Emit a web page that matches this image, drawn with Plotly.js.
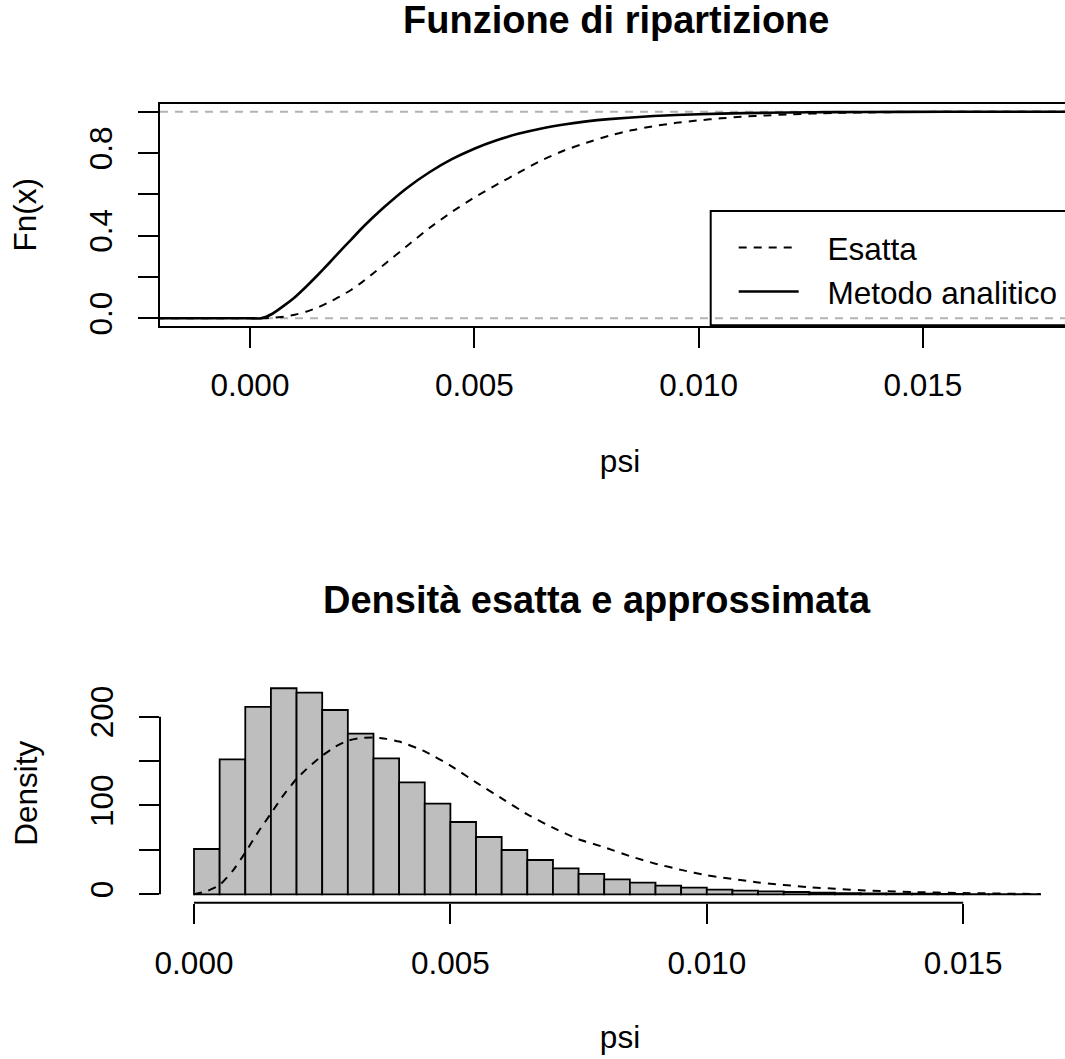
<!DOCTYPE html>
<html><head><meta charset="utf-8">
<script src="https://cdn.plot.ly/plotly-3.0.1.min.js"></script>
<style>html,body{margin:0;padding:0;overflow:hidden;background:#fff}#chart{width:1090px;height:1059px}</style>
</head><body><div id="chart"></div>
<script>
// ---- data ----
const analiticoPsi = [-0.0021, 0.0000, 0.00025, 0.0005, 0.00075, 0.0010, 0.00125, 0.0015, 0.00175, 0.0020, 0.00225, 0.0025, 0.00275, 0.0030, 0.0035, 0.0040, 0.0045, 0.0050, 0.0055, 0.0060, 0.0065, 0.0070, 0.0075, 0.0080, 0.0090, 0.0100, 0.0110, 0.0120, 0.0130, 0.0145, 0.0165, 0.0190];
const analiticoFn  = [0, 0, 0.000, 0.022, 0.060, 0.102, 0.153, 0.207, 0.264, 0.323, 0.380, 0.437, 0.490, 0.540, 0.631, 0.707, 0.770, 0.821, 0.862, 0.894, 0.919, 0.938, 0.953, 0.964, 0.979, 0.988, 0.993, 0.996, 0.998, 0.999, 1.0, 1.0];

const esattaPsi = [-0.0021, 0.0000, 0.0003, 0.0005, 0.00075, 0.0010, 0.00125, 0.0015, 0.00175, 0.0020, 0.00225, 0.0025, 0.00275, 0.0030, 0.0035, 0.0040, 0.0045, 0.0050, 0.0055, 0.0060, 0.0065, 0.0070, 0.0075, 0.0080, 0.0085, 0.0090, 0.0095, 0.0100, 0.0105, 0.0110, 0.0115, 0.0120, 0.0130, 0.0140, 0.0150, 0.0165, 0.0190];
const esattaFn  = [0, 0, 0.000, 0.003, 0.008, 0.017, 0.032, 0.051, 0.077, 0.105, 0.137, 0.175, 0.218, 0.262, 0.350, 0.437, 0.515, 0.585, 0.647, 0.706, 0.765, 0.812, 0.850, 0.883, 0.910, 0.930, 0.946, 0.958, 0.968, 0.976, 0.982, 0.987, 0.994, 0.997, 0.999, 1.0, 1.0];

const binStart = [0.0000, 0.0005, 0.0010, 0.0015, 0.0020, 0.0025, 0.0030, 0.0035, 0.0040, 0.0045, 0.0050, 0.0055, 0.0060, 0.0065, 0.0070, 0.0075, 0.0080, 0.0085, 0.0090, 0.0095, 0.0100, 0.0105, 0.0110, 0.0115, 0.0120, 0.0125, 0.0130, 0.0135, 0.0140, 0.0145, 0.0150, 0.0155, 0.0160];
const binDensity = [51, 152, 211, 232, 227, 207.5, 181, 153, 126, 102, 81.4, 64.5, 49.9, 38.6, 29.3, 22.9, 16.9, 13.1, 9.7, 7.5, 5.2, 4.1, 3.3, 2.6, 1.9, 1.4, 1.1, 0.8, 0.6, 0.4, 0.3, 0.2, 0.1];
const binWidth = 0.0005;

const densPsi = [0, 0.00025, 0.0005, 0.00075, 0.0010, 0.00125, 0.0015, 0.00175, 0.0020, 0.00225, 0.0025, 0.00275, 0.0030, 0.00325, 0.0035, 0.00375, 0.0040, 0.0045, 0.0050, 0.0055, 0.0060, 0.0065, 0.0070, 0.0075, 0.0080, 0.0085, 0.0090, 0.0095, 0.0100, 0.0110, 0.0120, 0.0130, 0.0140, 0.0150, 0.0165];
const densEsatta = [0, 3.5, 10.5, 26, 47, 70, 91, 112, 130, 144, 156, 166, 173, 176, 176.5, 175, 172, 161, 145, 126, 108, 90, 75, 62, 53, 43, 34.5, 27.5, 21.5, 13.4, 8, 4.6, 2.6, 1.4, 0.3];

const xTickVals = [0, 0.005, 0.010, 0.015];
const xTickText = ['0.000', '0.005', '0.010', '0.015'];
const fnTickVals = [0, 0.2, 0.4, 0.6, 0.8, 1.0];
const fnTickText = ['0.0', '', '0.4', '', '0.8', ''];
const densTickVals = [0, 50, 100, 150, 200];
const densTickText = ['0', '', '100', '', '200'];
const refLevels = [0, 1];
const legendNames = ['Esatta', 'Metodo analitico'];

// ---- layout helpers (pixel -> paper) ----
const W = 1090, H = 1059;
const px = v => v / W;
const py = v => 1 - v / H;
const FONT = 'Liberation Sans, Arial, Helvetica, sans-serif';
const FS = 31.5;
const pad = '\u00A0\u00A0\u2009';  // gap between legend sample and label, as in R

const traces = [
  {x: esattaPsi, y: esattaFn, type: 'scatter', mode: 'lines', name: pad + legendNames[0],
   line: {color: '#000', width: 2, dash: '8px,7px', shape: 'spline', smoothing: 0.5}, xaxis: 'x', yaxis: 'y'},
  {x: analiticoPsi, y: analiticoFn, type: 'scatter', mode: 'lines', name: pad + legendNames[1],
   line: {color: '#000', width: 2.6, shape: 'spline', smoothing: 0.5}, xaxis: 'x', yaxis: 'y'},
  {x: binStart, y: binDensity, type: 'bar', width: binWidth, offset: 0, showlegend: false,
   marker: {color: '#BEBEBE', line: {color: '#000', width: 1.8}}, xaxis: 'x2', yaxis: 'y2'},
  {x: densPsi, y: densEsatta, type: 'scatter', mode: 'lines', showlegend: false,
   line: {color: '#000', width: 2, dash: '8px,7px', shape: 'spline', smoothing: 0.5}, xaxis: 'x2', yaxis: 'y2'}
];

const axisCommon = {
  showgrid: false, zeroline: false, ticks: 'outside', ticklen: 20, tickwidth: 2, tickcolor: '#000',
  tickfont: {family: FONT, size: FS, color: '#000'}, tickmode: 'array', fixedrange: true
};

const shapes = [];
refLevels.forEach(v => shapes.push({type: 'line', layer: 'below', xref: 'x domain', x0: 0, x1: 1, yref: 'y', y0: v, y1: v,
  line: {color: '#B3B3B3', width: 2, dash: '8px,7px'}}));
// R-style axis lines for the histogram (only across the tick range)
shapes.push({type: 'line', xref: 'x2', x0: xTickVals[0], x1: xTickVals[xTickVals.length - 1], yref: 'y2 domain', y0: 0, y1: 0,
  line: {color: '#000', width: 2}});
shapes.push({type: 'line', xref: 'x2 domain', x0: 0, x1: 0, yref: 'y2', y0: densTickVals[0], y1: densTickVals[densTickVals.length - 1],
  line: {color: '#000', width: 2}});
// legend frame (R draws it without fill, extending past the right edge)
shapes.push({type: 'rect', xref: 'paper', yref: 'paper', x0: px(710.7), x1: px(1100), y0: py(325.3), y1: py(211),
  line: {color: '#000', width: 2}, fillcolor: 'rgba(0,0,0,0)'});

const layout = {
  width: W, height: H, margin: {l: 0, r: 0, t: 0, b: 0},
  paper_bgcolor: '#fff', plot_bgcolor: 'rgba(0,0,0,0)',
  font: {family: FONT, size: FS, color: '#000'},
  bargap: 0,
  xaxis: Object.assign({}, axisCommon, {domain: [px(160), px(1080)], range: [-0.002006, 0.018502], anchor: 'y',
    tickvals: xTickVals, ticktext: xTickText, showline: true, linewidth: 2, linecolor: '#000', mirror: true,
    ticklabelstandoff: 10,
    title: {text: 'psi', font: {family: FONT, size: FS, color: '#000'}, standoff: 48}}),
  yaxis: Object.assign({}, axisCommon, {domain: [py(326), py(103.5)], range: [-0.0373, 1.0397], anchor: 'x',
    tickvals: fnTickVals, ticktext: fnTickText, tickangle: -90, showline: true, linewidth: 2, linecolor: '#000', mirror: true,
    ticklabelstandoff: 13,
    title: {text: 'Fn(x)', font: {family: FONT, size: FS, color: '#000'}, standoff: 37}}),
  xaxis2: Object.assign({}, axisCommon, {domain: [px(160), px(1080)], range: [-0.000663, 0.017278], anchor: 'y2',
    tickvals: xTickVals, ticktext: xTickText, showline: false,
    ticklabelstandoff: 12,
    title: {text: 'psi', font: {family: FONT, size: FS, color: '#000'}, standoff: 46}}),
  yaxis2: Object.assign({}, axisCommon, {domain: [py(902.7), py(684)], range: [-9.46, 236.8], anchor: 'x2',
    tickvals: densTickVals, ticktext: densTickText, tickangle: -90, showline: false,
    ticklabelstandoff: 13,
    title: {text: 'Density', font: {family: FONT, size: FS, color: '#000'}, standoff: 37}}),
  showlegend: true,
  legend: {x: px(733.7), y: py(220.5), xanchor: 'left', yanchor: 'top', bgcolor: 'rgba(0,0,0,0)', borderwidth: 0,
    font: {family: FONT, size: FS, color: '#000'}, itemwidth: 60, tracegroupgap: 0},
  shapes: shapes,
  annotations: [
    {text: '<b>Funzione di ripartizione</b>', xref: 'paper', yref: 'paper', x: px(616), y: py(20), xanchor: 'center', yanchor: 'middle',
     showarrow: false, font: {family: FONT, size: 38, color: '#000'}},
    {text: '<b>Densità esatta e approssimata</b>', xref: 'paper', yref: 'paper', x: px(597), y: py(600), xanchor: 'center', yanchor: 'middle',
     showarrow: false, font: {family: FONT, size: 38, color: '#000'}}
  ]
};

Plotly.newPlot('chart', traces, layout, {displayModeBar: false, staticPlot: true});
</script>
</body></html>
